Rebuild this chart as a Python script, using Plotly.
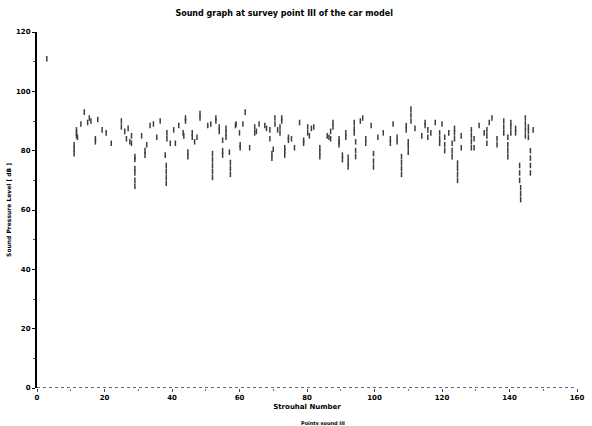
import plotly.graph_objects as go

# Measured points (Strouhal number, sound pressure level in dB)
pts_x = [2.9,
    11, 11, 11, 11.7, 11.7, 11.7, 12, 13, 14, 15, 15.5, 16, 17.3, 17.3, 18, 19.3, 20.5, 22,
    25, 25, 26, 26.5, 27, 27.5, 28, 28, 29, 29, 29, 29, 29, 29, 31, 32, 32, 32.5, 33.5, 34.5,
    35.5, 36.5, 38, 38.3, 38.3, 38.3, 38.3, 38.5, 38.5, 39.5, 40.5, 41, 42, 43.3, 43.5, 44, 44,
    44.7, 44.7, 46, 46, 46.7, 47.4, 48.3, 48.3, 50.6, 51.5, 52, 52, 52, 52, 52, 53, 53, 54, 54,
    55, 55, 55, 56, 56, 56, 57, 57.3, 57.3, 57.3, 58.8, 59, 60, 60.2, 60.2, 61, 61.7, 63, 64.5,
    64.5, 65, 65.8, 67.5, 68, 69, 69, 69.6, 69.6, 70, 70.5, 70.5, 71.3, 72, 72, 72.5, 72.5, 73.4,
    73.4, 73.4, 74.5, 74.5, 75.4, 76.3, 77.8, 79, 79, 80.2, 80.2, 80.7, 81.3, 82, 83.8, 83.8,
    83.8, 86, 86.5, 87, 87, 87.7, 87.7, 89.5, 89.5, 89.5, 90.5, 90.5, 91.5, 91.5, 92.2, 92.2,
    92.2, 94, 94, 94, 94.4, 94.4, 94.4, 95.8, 96.5, 97.4, 97.4, 99, 99.7, 99.7, 99.7, 101, 102.6,
    104.7, 104.7, 105.5, 106.7, 106.7, 108, 108, 108, 108, 109.4, 109.4, 110, 110, 110, 110.8,
    110.8, 110.8, 112, 114, 115, 115, 115.8, 115.8, 116.7, 118, 119.3, 119.3, 119.3, 120, 120.8,
    120.8, 120.8, 122, 123, 123, 123, 123.7, 123.7, 123.7, 124.6, 124.6, 124.6, 124.6, 125.7,
    125.7, 128.7, 128.7, 128.7, 128.7, 129.5, 129.5, 131, 132.5, 133.3, 133.3, 133.3, 134, 134.8,
    136.3, 136.3, 138.3, 138.3, 138.3, 139.5, 139.5, 139.5, 139.5, 140.4, 140.4, 140.4, 141.8,
    141.8, 143, 143, 143, 143.3, 143.3, 143.3, 144.7, 144.7, 144.7, 144.7, 145.6, 145.6, 145.6,
    146.2, 146.2, 146.2, 146.2, 147]
pts_y = [111,
    79, 80.5, 82, 85, 86, 87, 84.5, 89, 93, 89.5, 91, 90, 83, 84, 90.5, 87, 86, 82.5,
    88, 90, 86.5, 84, 87.5, 83, 85, 82.5, 78, 77, 74, 72.5, 70, 68, 85, 78.5, 80, 82, 88.5, 89,
    84.5, 90, 78.5, 75, 73, 71, 69, 84, 86, 82.5, 87, 82.5, 88.5, 86, 85, 90, 91,
    78, 79.5, 84.5, 86, 83, 84.5, 91, 92.5, 88.5, 89, 79, 77, 75, 73, 71, 90, 91, 86.5, 88,
    83.5, 80, 78.5, 84.5, 86, 87.5, 79.5, 76, 74, 72, 88.5, 89, 86, 82, 81, 89, 93, 81, 86,
    88, 86.5, 89, 88.5, 87.5, 84, 87, 77.5, 79, 80.5, 89, 91, 87, 86, 88, 90, 91, 78.5,
    80, 81, 83.5, 84.5, 84, 81, 89.5, 82.5, 83.5, 86, 88, 85, 87.5, 88, 78, 79.5,
    81, 85, 84.5, 84, 86.5, 88, 89.5, 82, 83, 84, 77, 78.5, 84.5, 86, 74.5, 76,
    77.8, 86, 87.5, 89.5, 78, 80, 83, 90, 91, 82.5, 84, 88.5, 74.5, 76.5, 79, 84.5, 86,
    82.5, 84, 89, 83, 84.5, 72, 74, 76, 78, 87, 88.5, 79.5, 81.5, 83, 90,
    92, 94, 87.5, 85, 88.5, 89.5, 84.5, 87, 86, 89.5, 82.5, 84, 86, 89, 80,
    82, 84.5, 86, 78, 80, 82.5, 84, 86, 87.5, 70, 72, 74, 75.8, 85,
    81, 81, 83, 85, 87, 81, 84, 88.5, 86, 82.5, 85, 87, 89.5, 91,
    82, 84, 86, 88, 90, 78, 80, 82, 84.5, 86, 88, 89.5, 86,
    87.5, 70, 72.5, 75, 63.5, 65.5, 67.5, 85, 87, 89, 91, 84.5, 86.5, 88,
    72.5, 75, 77.5, 80, 87]

x_ticks = [0, 20, 40, 60, 80, 100, 120, 140, 160]
y_ticks = [0, 20, 40, 60, 80, 100, 120]

FONT = "DejaVu Sans"

fig = go.Figure()
fig.add_trace(go.Scatter(
    x=pts_x, y=pts_y, mode="markers",
    marker=dict(symbol="line-ns", size=4, color="#2a2a2a",
                line=dict(width=1.5, color="#2a2a2a")),
    opacity=0.9,
    showlegend=False,
))

fig.update_layout(
    width=592, height=426,
    margin=dict(l=37, r=8, t=32, b=38),
    paper_bgcolor="white", plot_bgcolor="white",
    font=dict(family=FONT, size=7, color="black", weight="bold"),
    title=dict(text="Sound graph at survey point III of the car model",
               x=0.48, xanchor="center", y=0.975, yanchor="top",
               font=dict(family=FONT, size=8, color="black", weight="bold")),
    xaxis=dict(range=[0, 160], tickvals=x_ticks, ticks="outside", ticklen=3,
               tickcolor="#444", showgrid=False, zeroline=False, showline=False,
               minor=dict(dtick=10, ticks="outside", ticklen=2, tickcolor="#777"),
               title=dict(text="Strouhal Number", standoff=2,
                          font=dict(family=FONT, size=7, color="black", weight="bold"))),
    yaxis=dict(range=[0, 120], tickvals=y_ticks, ticks="outside", ticklen=3,
               tickcolor="black", showgrid=False, zeroline=False,
               showline=True, linecolor="black", linewidth=2,
               minor=dict(dtick=10, ticks="outside", ticklen=2, tickcolor="#555"),
               title=dict(text="Sound Pressure Level [ dB ]", standoff=4,
                          font=dict(family=FONT, size=6, color="black", weight="bold"))),
    shapes=[dict(type="line", xref="paper", yref="y", x0=0, x1=1, y0=0, y1=0,
                 line=dict(color="#333", width=1.5, dash="dot"))],
    annotations=[dict(text="Points sound III", xref="paper", yref="paper",
                      x=0.53, y=-0.085, xanchor="center", yanchor="top",
                      showarrow=False,
                      font=dict(family=FONT, size=5, color="black", weight="bold"))],
)

fig.write_html("out.html")
